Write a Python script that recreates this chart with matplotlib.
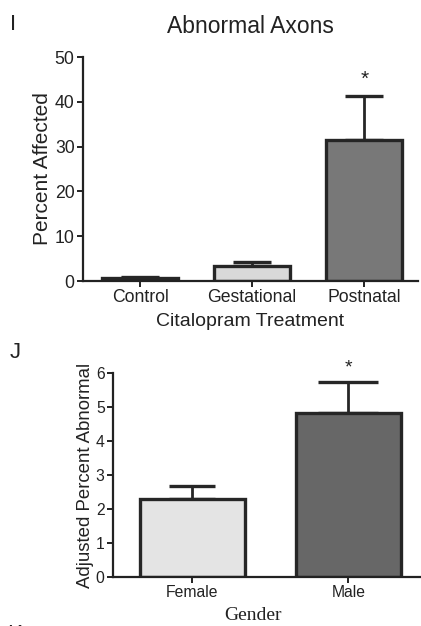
import matplotlib
matplotlib.use('Agg')
import matplotlib.pyplot as plt

plt.rcParams['font.family'] = 'Liberation Sans'

# panel I data
treatments = ['Control', 'Gestational', 'Postnatal']
pct_affected = [0.6, 3.4, 31.5]
pct_affected_err = [0.3, 0.8, 9.8]
treat_colors = ['#2a2a2a', '#d9d9d9', '#787878']

# panel J data
genders = ['Female', 'Male']
adj_pct_abnormal = [2.3, 4.83]
adj_pct_err = [0.38, 0.9]
gender_colors = ['#e4e4e4', '#676767']

W, H = 421, 626
fig = plt.figure(figsize=(W / 100, H / 100), dpi=100)


def px_axes(x0, y0, x1, y1):
    return fig.add_axes([x0 / W, 1 - y1 / H, (x1 - x0) / W, (y1 - y0) / H])


def style(ax):
    for s in ['top', 'right']:
        ax.spines[s].set_visible(False)
    for s in ['left', 'bottom']:
        ax.spines[s].set_linewidth(1.6)
        ax.spines[s].set_color('#222222')
    ax.tick_params(width=1.4, length=4, color='#222222', colors='#222222')


edge = '#262626'

# ---- panel I ----
ax1 = px_axes(83, 57, 418, 281)
ax1.bar(range(3), pct_affected, width=0.68, color=treat_colors,
        edgecolor=edge, linewidth=2.4, zorder=2)
ax1.errorbar(range(3), pct_affected, yerr=[[0, 0, 0], pct_affected_err],
             fmt='none', ecolor=edge, elinewidth=2.0, capsize=14, capthick=2.4, zorder=1)
ax1.text(2, 45, '*', ha='center', va='center', fontsize=15, color='#222222')
ax1.set_xlim(-0.51, 2.48)
ax1.set_ylim(0, 50)
ax1.set_yticks([0, 10, 20, 30, 40, 50])
ax1.set_xticks(range(3))
ax1.set_xticklabels(treatments)
style(ax1)
ax1.tick_params(labelsize=12.7, pad=2)
ax1.set_ylabel('Percent Affected', fontsize=15, labelpad=2, color='#222222')
ax1.set_xlabel('Citalopram Treatment', fontsize=14, labelpad=5, color='#222222')
ax1.set_title('Abnormal Axons', fontsize=16.5, pad=17, color='#222222')
fig.text(13 / W, 1 - 25 / H, 'I', fontsize=16, ha='center', va='center', color='#222222')

# ---- panel J ----
ax2 = px_axes(113, 373, 420, 577)
ax2.bar(range(2), adj_pct_abnormal, width=0.67, color=gender_colors,
        edgecolor=edge, linewidth=2.4, zorder=2)
# caps differ in width between the two bars in the original
for i, cs in enumerate([16.5, 21.5]):
    ax2.errorbar(i, adj_pct_abnormal[i], yerr=[[0], [adj_pct_err[i]]],
                 fmt='none', ecolor=edge, elinewidth=2.0, capsize=cs, capthick=2.4, zorder=1)
ax2.text(1, 6.15, '*', ha='center', va='center', fontsize=14, color='#222222')
ax2.set_xlim(-0.51, 1.46)
ax2.set_ylim(0, 6)
ax2.set_yticks(range(7))
ax2.set_xticks(range(2))
ax2.set_xticklabels(genders)
style(ax2)
ax2.tick_params(labelsize=11.3, pad=2)
ax2.set_ylabel('Adjusted Percent Abnormal', fontsize=13.4, labelpad=1, color='#222222')
fig.text(253 / W, 1 - 616 / H, 'Gender', fontsize=14, family='Liberation Serif',
         ha='center', va='center', color='#222222')
fig.text(15 / W, 1 - 352 / H, 'J', fontsize=16, ha='center', va='center', color='#222222')
# next panel letter, only its top shows at the bottom edge in the original
fig.text(15 / W, 1 - 634 / H, 'K', fontsize=16, ha='center', va='center', color='#222222')

fig.savefig('out.png', dpi=100)
